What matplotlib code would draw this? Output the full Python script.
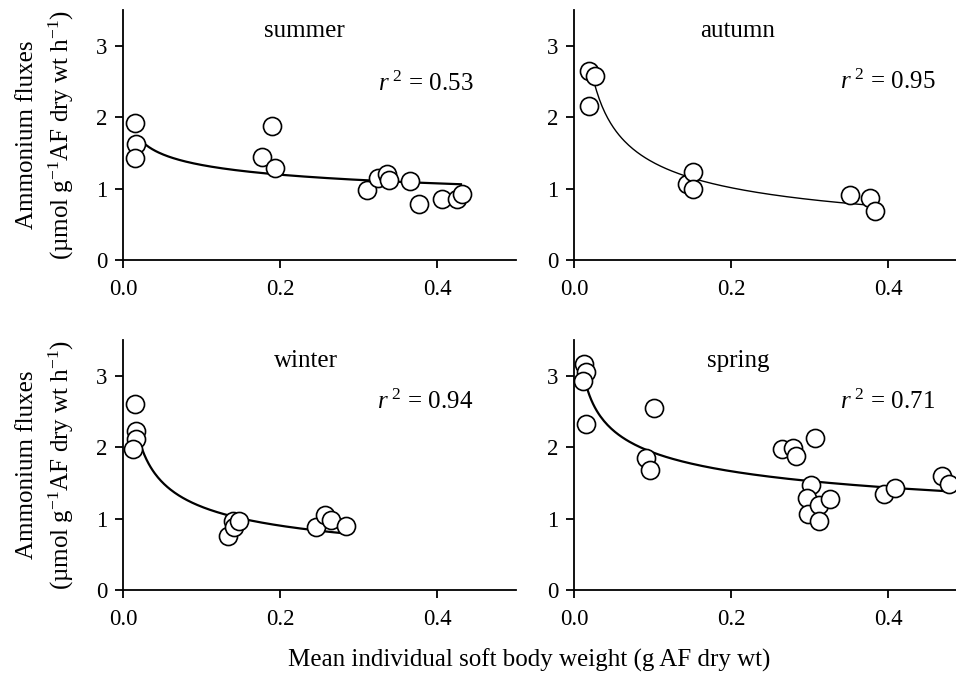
import numpy as np
import matplotlib
matplotlib.use('Agg')
import matplotlib.pyplot as plt

plt.rcParams['font.family'] = ['Liberation Serif', 'DejaVu Serif']
plt.rcParams['mathtext.fontset'] = 'custom'
plt.rcParams['mathtext.rm'] = 'Liberation Serif'
plt.rcParams['mathtext.it'] = 'Liberation Serif:italic'

# season panels
seasons = ['summer', 'autumn', 'winter', 'spring']
r2_values = ['0.53', '0.95', '0.94', '0.71']

# points (g AF dry wt, umol g-1 AF dry wt h-1)
summer_x = [0.015, 0.017, 0.015, 0.177, 0.189, 0.193, 0.311, 0.324, 0.336,
            0.339, 0.365, 0.377, 0.406, 0.425, 0.431]
summer_y = [1.92, 1.62, 1.43, 1.44, 1.87, 1.29, 0.98, 1.15, 1.20,
            1.12, 1.10, 0.79, 0.85, 0.85, 0.92]

autumn_x = [0.019, 0.027, 0.019, 0.144, 0.151, 0.152, 0.351, 0.376, 0.383]
autumn_y = [2.65, 2.58, 2.15, 1.06, 1.23, 1.00, 0.91, 0.87, 0.68]

winter_x = [0.015, 0.016, 0.016, 0.013, 0.134, 0.140, 0.141, 0.148,
            0.246, 0.257, 0.265, 0.284]
winter_y = [2.60, 2.23, 2.12, 1.98, 0.76, 0.97, 0.88, 0.97,
            0.88, 1.05, 0.98, 0.89]

spring_x = [0.013, 0.015, 0.012, 0.015, 0.102, 0.092, 0.097, 0.265, 0.278,
            0.283, 0.307, 0.301, 0.297, 0.298, 0.312, 0.312, 0.326, 0.394,
            0.408, 0.468, 0.477]
spring_y = [3.16, 3.05, 2.92, 2.33, 2.55, 1.85, 1.68, 1.97, 1.99,
            1.87, 2.13, 1.47, 1.29, 1.06, 1.19, 0.96, 1.27, 1.34,
            1.43, 1.60, 1.49]

# power-law fits y = a * x^b
fit_a = [0.93, 0.50, 0.495, 1.18]
fit_b = [-0.1555, -0.438, -0.372, -0.213]
fit_x0 = [0.025, 0.027, 0.022, 0.015]
fit_x1 = [0.430, 0.380, 0.285, 0.476]

xs = [summer_x, autumn_x, winter_x, spring_x]
ys = [summer_y, autumn_y, winter_y, spring_y]

fig = plt.figure(figsize=(9.56, 6.78), dpi=100)

W, H = 956, 678
lefts = [123, 574, 123, 574]
bottoms = [260, 260, 590, 590]
title_x = [0.231, 0.208, 0.233, 0.209]
r2_x = [0.446, 0.46, 0.446, 0.46]
r2_y = [2.47, 2.49, 2.63, 2.63]
line_w = [1.6, 1.0, 1.6, 1.6]

for i in range(4):
    ax = fig.add_axes([lefts[i] / W, (H - bottoms[i]) / H, 393 / W, 250 / H])
    fx = np.linspace(fit_x0[i], fit_x1[i], 200)
    ax.plot(fx, fit_a[i] * fx ** fit_b[i], color='black', lw=line_w[i], zorder=2)
    ax.plot(xs[i], ys[i], 'o', ms=13, mfc='white', mec='black', mew=1.2,
            zorder=3, clip_on=False)
    ax.set_xlim(0, 0.5)
    ax.set_ylim(0, 3.5)
    ax.set_xticks([0.0, 0.2, 0.4])
    ax.set_xticklabels(['0.0', '0.2', '0.4'])
    ax.set_yticks([0, 1, 2, 3])
    ax.spines['top'].set_visible(False)
    ax.spines['right'].set_visible(False)
    ax.spines['left'].set_linewidth(1.3)
    ax.spines['bottom'].set_linewidth(1.3)
    ax.tick_params(direction='out', length=5.5, width=1.3, labelsize=16.5)
    ax.tick_params(axis='x', pad=8)
    ax.tick_params(axis='y', pad=6)
    ax.text(title_x[i], 3.2, seasons[i], ha='center', va='center', fontsize=18)
    ax.text(r2_x[i], r2_y[i], r'$r^{\ 2}$ = ' + r2_values[i], ha='right',
            va='center', fontsize=18)

for yc in [135, 465]:
    fig.text(27 / W, 1 - yc / H, 'Ammonium fluxes', rotation=90,
             ha='center', va='center', fontsize=18)
    fig.text(61 / W, 1 - yc / H, '(µmol g$^{-1}$AF dry wt h$^{-1}$)',
             rotation=90, ha='center', va='center', fontsize=18)

fig.text(529 / W, 1 - 660 / H, 'Mean individual soft body weight (g AF dry wt)',
         ha='center', va='center', fontsize=18)

fig.savefig('out.png', dpi=100)
